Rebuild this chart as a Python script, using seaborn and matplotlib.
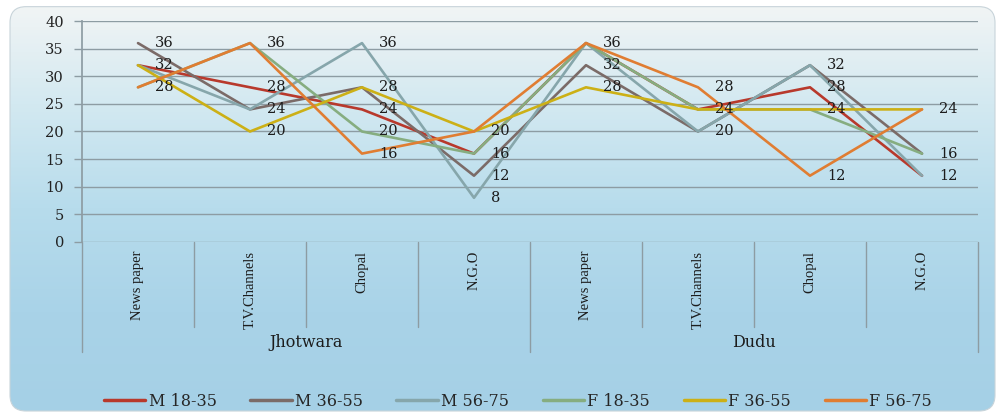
import numpy as np
import pandas as pd
import matplotlib
matplotlib.use("Agg")
from matplotlib import pyplot as plt
from matplotlib.patches import FancyBboxPatch
from matplotlib.colors import LinearSegmentedColormap
from matplotlib.lines import Line2D
import matplotlib.transforms as mtransforms
import seaborn as sns

places = ["Jhotwara", "Dudu"]
media = ["News paper", "T.V.Channels", "Chopal", "N.G.O"]
series = ["M 18-35", "M 36-55", "M 56-75", "F 18-35", "F 36-55", "F 56-75"]

m_18_35 = [32, 28, 24, 16, 36, 24, 28, 12]
m_36_55 = [36, 24, 28, 12, 32, 20, 32, 16]
m_56_75 = [32, 24, 36, 8, 36, 20, 32, 12]
f_18_35 = [28, 36, 20, 16, 36, 24, 24, 16]
f_36_55 = [32, 20, 28, 20, 28, 24, 24, 24]
f_56_75 = [28, 36, 16, 20, 36, 28, 12, 24]

colors = ["#b8392c", "#7b6b68", "#86a6ab", "#86ad80", "#ccb016", "#e07d32"]

values = [m_18_35, m_36_55, m_56_75, f_18_35, f_36_55, f_56_75]
categories = [(p, m) for p in places for m in media]
rows = []
for name, vals in zip(series, values):
    for i, v in enumerate(vals):
        rows.append({"series": name, "pos": i, "value": v})
df = pd.DataFrame(rows)

sns.set_theme(style="white")
plt.rcParams["font.family"] = ["DejaVu Serif", "DejaVu Sans"]

fig = plt.figure(figsize=(10, 4.16), dpi=100)
fig.patch.set_facecolor("white")

# gradient background with rounded corners
bg = fig.add_axes([0, 0, 1, 1], zorder=-5)
bg.set_axis_off()
grad = np.linspace(0, 1, 256).reshape(-1, 1)
cmap = LinearSegmentedColormap.from_list(
    "bg", ["#f3f5f5", "#d3e9f1", "#b7dcec", "#a9d3e8", "#a5d0e6"])
im = bg.imshow(grad, extent=[0, 1, 0, 1], aspect="auto", cmap=cmap,
               origin="upper", transform=bg.transAxes)
box = FancyBboxPatch((0.01, 0.012), 0.985, 0.972,
                     boxstyle="round,pad=0,rounding_size=0.016",
                     mutation_aspect=1000 / 416,
                     transform=bg.transAxes, facecolor="none",
                     edgecolor="#c8d4da", linewidth=0.8)
bg.add_patch(box)
im.set_clip_path(box)

ax = fig.add_axes([0.082, 0.4183, 0.896, 0.5312])
ax.set_facecolor("none")

sns.lineplot(data=df, x="pos", y="value", hue="series", palette=colors,
             linewidth=1.9, legend=False, ax=ax)

ax.set_xlim(-0.5, len(categories) - 0.5)
ax.set_ylim(0, 40)
ax.set_yticks(range(0, 41, 5))
ax.set_xticks([])
ax.set_xlabel("")
ax.set_ylabel("")
ax.grid(axis="y", color="#8d9ca3", linewidth=1.0)
ax.set_axisbelow(True)
for s in ["top", "right", "bottom"]:
    ax.spines[s].set_visible(False)
ax.spines["left"].set_color("#8d9ca3")
ax.tick_params(axis="y", which="major", left=True, length=6, width=1,
               color="#8d9ca3", labelsize=10.5, labelcolor="#222222", pad=7)

# data labels, one per distinct value at each category
for i in range(len(categories)):
    for v in sorted({vals[i] for vals in values}):
        ax.text(i + 0.15, v, str(v), fontsize=10.5, color="#1c1c1c",
                ha="left", va="center", zorder=5)

# category axis below the plot
trans = mtransforms.blended_transform_factory(ax.transData, ax.transAxes)
for i, (p, m) in enumerate(categories):
    ax.text(i, -0.04, m, rotation=90, ha="center", va="top", fontsize=10.5,
            color="#1c1c1c", transform=trans, family="Liberation Serif")
for k in range(len(categories) + 1):
    edge = k % len(media) == 0
    ax.plot([k - 0.5, k - 0.5], [0, -0.5 if edge else -0.385],
            color="#8d9ca3", linewidth=1, transform=trans, clip_on=False)
for j, p in enumerate(places):
    mid = j * len(media) + (len(media) - 1) / 2
    ax.text(mid, -0.457, p, ha="center", va="center", fontsize=11.5,
            color="#1c1c1c", transform=trans)

handles = [Line2D([0], [0], color=c, linewidth=2.5) for c in colors]
fig.legend(handles, series, loc="center", bbox_to_anchor=(0.518, 0.036),
           ncol=6, frameon=False, fontsize=11.5, handlelength=2.6,
           handletextpad=0.2, columnspacing=2.1)

fig.savefig("out.png", dpi=100)
